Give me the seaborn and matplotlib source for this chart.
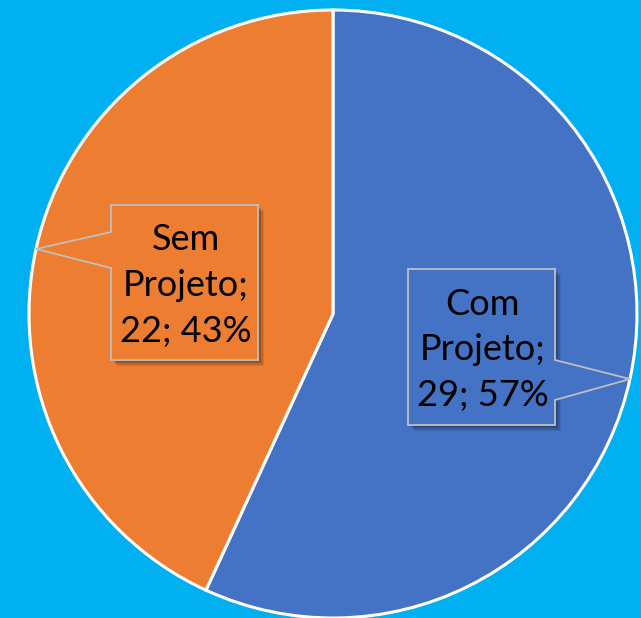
import numpy as np
import matplotlib.pyplot as plt
from matplotlib.patches import Polygon
import seaborn as sns

sns.set_style("white")
plt.rcParams['font.family'] = ['Lato', 'DejaVu Sans']

# data
categories = ["Com\nProjeto", "Sem\nProjeto"]
values = [29, 22]
colors = ["#4472C4", "#ED7D31"]

bg = "#00B0F0"
fig = plt.figure(figsize=(6.41, 6.18), dpi=100, facecolor=bg)
ax = fig.add_axes([0, 0, 1, 1])
ax.set_facecolor(bg)

cx, cy, r = 333, 304, 304
wedges, _ = ax.pie(values, colors=colors, startangle=90, counterclock=False,
                   center=(cx, cy), radius=r, frame=True,
                   wedgeprops=dict(edgecolor="white", linewidth=2.2))
ax.set_xlim(0, 641)
ax.set_ylim(0, 618)
ax.set_aspect("equal")
ax.axis("off")

total = sum(values)
# box (x0, x1, y0, y1) and pointer base on the side facing the anchor
boxes = [(408, 555, 193, 349), (111, 258, 258, 413)]
bases = [(218, 258), (350, 386)]

for w, cat, v, col, (x0, x1, y0, y1), (b0, b1) in zip(wedges, categories, values, colors, boxes, bases):
    mid = np.deg2rad((w.theta1 + w.theta2) / 2)
    axp, ayp = cx + r * np.cos(mid), cy + r * np.sin(mid)
    if axp > x1:
        pts = [(x0, y0), (x1, y0), (x1, b0), (axp, ayp), (x1, b1), (x1, y1), (x0, y1)]
    else:
        pts = [(x0, y0), (x1, y0), (x1, y1), (x0, y1), (x0, b1), (axp, ayp), (x0, b0)]
    # soft shadow
    for k, a in zip([6, 4.5, 3], [0.08, 0.12, 0.18]):
        sx = [(px + k, py - k) for px, py in [(x0, y0), (x1, y0), (x1, y1), (x0, y1)]]
        ax.add_patch(Polygon(sx, closed=True, facecolor="black", alpha=a, edgecolor="none", zorder=3))
    ax.add_patch(Polygon(pts, closed=True, facecolor=col, edgecolor="#BFBFBF", linewidth=1.3, zorder=4))
    pct = round(100 * v / total)
    ax.text((x0 + x1) / 2 + 1, (y0 + y1) / 2 - 3, f"{cat};\n{v}; {pct}%", ha="center", va="center",
            fontsize=26, linespacing=1.48, color="black", zorder=5)

fig.savefig("out.png", dpi=100, facecolor=bg)
